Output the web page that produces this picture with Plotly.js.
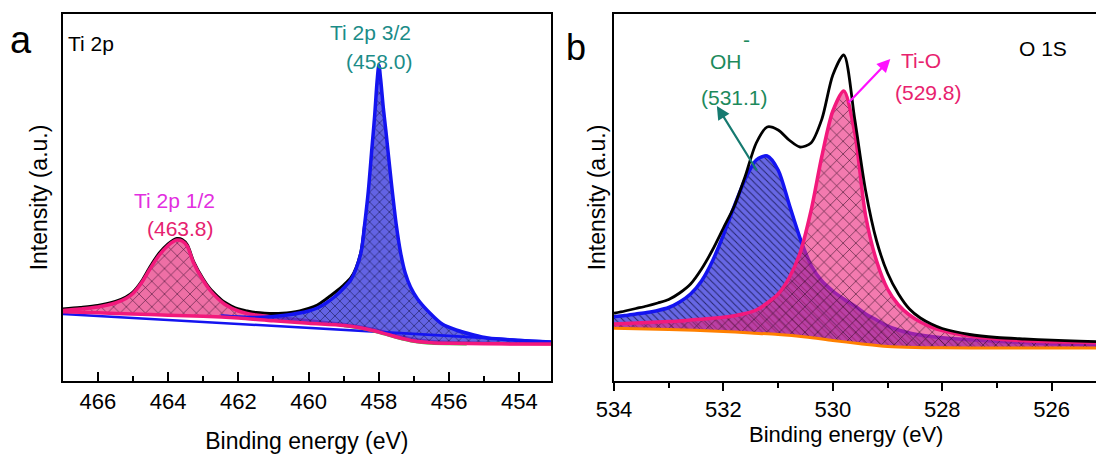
<!DOCTYPE html>
<html>
<head>
<meta charset="utf-8">
<script src="https://cdn.plot.ly/plotly-3.0.1.min.js"></script>
<style>html,body{margin:0;padding:0;background:#fff;}#chart{width:1096px;height:454px;}</style>
</head>
<body>
<div id="chart"></div>
<script>
// ---------- Panel a : Ti 2p ----------
const tiEnvE = [467, 466.5, 466, 465.5, 465.2, 465, 464.75, 464.5, 464.25, 464, 463.85, 463.75, 463.6, 463.45, 463.28, 463, 462.8, 462.6, 462.4, 462.2, 462, 461.75, 461.5, 461.25, 461, 460.75, 460.5, 460.25, 460, 459.75, 459.5, 459.2, 459, 458.8, 458.65, 458.5, 458.4];
const tiEnvI = [72, 73.5, 75.5, 79.5, 84, 89, 100, 115, 128, 137, 141, 142.5, 141.5, 136, 120, 102, 92, 85, 79, 75, 72, 70, 68.5, 67.8, 67.5, 67.7, 68.5, 70, 72.5, 76, 82, 90, 96, 103, 113, 131, 158];

const ti12E = [467, 466.5, 466, 465.5, 465.2, 465, 464.75, 464.5, 464.25, 464, 463.85, 463.75, 463.6, 463.45, 463.28, 463, 462.8, 462.6, 462.4, 462.2, 462, 461.75, 461.5, 461, 460.5, 460, 459.5, 459, 458.5, 458, 457.5, 457, 456.5, 456, 455, 454, 453.1];
const ti12I = [70.5, 72, 74, 78, 82.5, 87.5, 98.5, 113, 126, 135.5, 139.5, 141, 140, 134.5, 118.5, 100.5, 90.5, 83, 77, 73, 70, 67.5, 66, 64, 62, 60.2, 58.3, 56.5, 53.8, 50.3, 45.5, 41.5, 39.5, 38.6, 37.8, 37.4, 37.2];

const ti32E = [462.5, 462, 461.5, 461, 460.5, 460, 459.75, 459.5, 459.2, 459, 458.8, 458.65, 458.5, 458.4, 458.3, 458.2, 458.12, 458.05, 458, 457.95, 457.87, 457.8, 457.65, 457.5, 457.38, 457.25, 457.1, 456.9, 456.55, 456.2, 455.8, 455.3, 454.9, 454, 453.1];
const ti32I = [65, 64, 63.5, 64.5, 66.5, 70, 73, 78, 86, 93, 101, 112, 130, 158, 190, 232, 265, 300, 316, 302, 272, 250, 200, 155, 128, 108, 94, 82, 68, 57, 51, 46, 43, 40.5, 39];

const tiShirleyE = [467, 466, 465, 464, 463, 462, 461, 460, 459, 458.5, 458, 457.5, 457, 456.5, 456, 455, 454, 453.1];
const tiShirleyI = [69.3, 68.2, 67, 65.8, 64.8, 63, 60.2, 57.7, 55.5, 53, 49, 44, 40, 38.3, 37.7, 37.3, 37, 37];

const tiGreenE = [459, 458.5, 458, 457.5, 457, 456.5, 456, 455.5];
const tiGreenI = [54.5, 52, 47.8, 42.8, 38.8, 37, 36.5, 36.3];

const tiLinearE = [467, 453.1];
const tiLinearI = [67, 39.3];

// ---------- Panel b : O 1s ----------
const oE = [534, 533.8, 533.6, 533.4, 533.2, 533, 532.8, 532.6, 532.4, 532.2, 532, 531.8, 531.6, 531.4, 531.2, 531, 530.8, 530.6, 530.4, 530.2, 530, 529.8, 529.6, 529.4, 529.2, 529, 528.8, 528.6, 528.4, 528.2, 528, 527.5, 527, 526.5, 526, 525.5, 525.19];
const oEnvI = [67.7, 70, 72.5, 75, 78, 81.5, 88, 97, 112, 131, 153, 175, 205, 238, 254, 251, 241, 234, 238, 262, 306, 326, 262, 190, 140, 108, 87, 72, 63, 57, 52.5, 46.5, 43.5, 42, 40.8, 39.8, 39.3];
const ohI  = [64.3, 65.5, 67, 68.5, 70.5, 73.5, 79, 87, 100, 120, 146, 175, 202, 221, 225, 211, 177, 143, 116, 100, 90, 82, 75, 67, 61, 55, 51, 48, 46, 44.5, 43.3, 41.2, 39.7, 38.4, 37.2, 36.4, 36];
const tioI = [57, 57.5, 58, 58.5, 59, 59.5, 60, 61, 61.8, 62.7, 63.8, 65.3, 67.5, 71, 78, 87, 103, 128, 170, 225, 270, 290, 248, 165, 120, 92, 76, 66, 59, 54, 50.5, 45, 42, 40.3, 39.3, 38.7, 38.3];

const oBgE = [534, 533, 532, 531.5, 531, 530.5, 530, 529.5, 529, 528.5, 528, 527, 526, 525.19];
const oBgI = [52.7, 51.5, 49.5, 48, 46.5, 44, 40.5, 37.3, 34.5, 33.5, 33.2, 33, 33, 33];

// label texts
const labelsA = [
  {text: 'Ti 2p', E: 466.9, I: 338, color: '#000000', anchor: 'left'},
  {text: 'Ti 2p 3/2', E: 458.24, I: 349, color: '#1b8c88', anchor: 'center'},
  {text: '(458.0)', E: 457.97, I: 320, color: '#1b8c88', anchor: 'center'},
  {text: 'Ti 2p 1/2', E: 463.83, I: 181, color: '#e22ee0', anchor: 'center'},
  {text: '(463.8)', E: 463.65, I: 153, color: '#e6226f', anchor: 'center'}
];
const labelsB = [
  {text: 'OH', E: 531.95, I: 320, color: '#1d8a5c', anchor: 'center'},
  {text: '-', E: 531.57, I: 342, color: '#1d8a5c', anchor: 'center'},
  {text: '(531.1)', E: 531.79, I: 284, color: '#1d8a5c', anchor: 'center'},
  {text: 'Ti-O', E: 528.39, I: 321, color: '#e8226e', anchor: 'center'},
  {text: '(529.8)', E: 528.26, I: 289, color: '#e8226e', anchor: 'center'},
  {text: 'O 1S', E: 526.16, I: 333, color: '#000000', anchor: 'center'}
];
const xTitle = 'Binding energy (eV)';
const yTitle = 'Intensity (a.u.)';

const FONT = 'Liberation Sans, Arial, sans-serif';
const PINK = '#f2197c', BLUE = '#1414f0', ORANGE = '#ff8000';

function line(x, y, xa, ya, color, width, extra) {
  return Object.assign({x: x, y: y, xaxis: xa, yaxis: ya, type: 'scatter', mode: 'lines',
    line: {color: color, width: width, shape: 'spline', smoothing: 0.8}, hoverinfo: 'skip', showlegend: false}, extra || {});
}

const traces = [
  // panel a
  line(tiEnvE, tiEnvI, 'x', 'y', '#000', 3),
  line(tiShirleyE, tiShirleyI, 'x', 'y', 'rgba(0,0,0,0)', 0),
  line(ti12E, ti12I, 'x', 'y', PINK, 3.5, {fill: 'tonexty',
    fillpattern: {shape: 'x', bgcolor: 'rgba(232,55,130,0.72)', fgcolor: '#3a1030', size: 9, solidity: 0.12}}),
  line(tiShirleyE, tiShirleyI, 'x', 'y', 'rgba(0,0,0,0)', 0),
  line(ti32E, ti32I, 'x', 'y', BLUE, 3.5, {fill: 'tonexty',
    fillpattern: {shape: 'x', bgcolor: 'rgba(55,55,220,0.78)', fgcolor: '#101040', size: 7, solidity: 0.15}}),
  line(tiLinearE, tiLinearI, 'x', 'y', BLUE, 2.5),
  line(tiGreenE, tiGreenI, 'x', 'y', '#33cc33', 1.5),
  line(tiShirleyE, tiShirleyI, 'x', 'y', PINK, 3.5),
  // panel b
  line(oBgE, oBgI, 'x2', 'y2', 'rgba(0,0,0,0)', 0),
  line(oE, ohI, 'x2', 'y2', BLUE, 3.5, {fill: 'tonexty',
    fillpattern: {shape: '\\', bgcolor: 'rgba(60,60,220,0.78)', fgcolor: '#24246a', size: 5, solidity: 0.2}}),
  line(oBgE, oBgI, 'x2', 'y2', 'rgba(0,0,0,0)', 0),
  line(oE, tioI, 'x2', 'y2', PINK, 3.5, {fill: 'tonexty',
    fillpattern: {shape: 'x', bgcolor: 'rgba(236,40,125,0.62)', fgcolor: '#2a0a20', size: 9, solidity: 0.12}}),
  line(oBgE, oBgI, 'x2', 'y2', ORANGE, 3),
  line(oE, oEnvI, 'x2', 'y2', '#000', 2.8)
];

function ann(l, xa, ya) {
  return {text: l.text, x: l.E, y: l.I, xref: xa, yref: ya, showarrow: false,
    xanchor: l.anchor, yanchor: 'middle', font: {family: FONT, size: 21, color: l.color}};
}
const tickfont = {family: FONT, size: 22, color: '#000'};
const titlefont = {family: FONT, size: 23, color: '#000'};

const annotations = labelsA.map(l => ann(l, 'x', 'y')).concat(labelsB.map(l => ann(l, 'x2', 'y2')));
annotations.push({text: 'a', xref: 'paper', yref: 'paper', x: 21/1096, y: 1 - 40/454, showarrow: false,
  xanchor: 'center', yanchor: 'middle', font: {family: FONT, size: 38, color: '#000'}});
annotations.push({text: 'b', xref: 'paper', yref: 'paper', x: 576/1096, y: 1 - 47/454, showarrow: false,
  xanchor: 'center', yanchor: 'middle', font: {family: FONT, size: 36, color: '#000'}});
// x title of panel b sits tight under its tick labels
annotations.push({text: xTitle, xref: 'paper', yref: 'paper', x: 846/1096, y: 1 - 434/454, showarrow: false,
  xanchor: 'center', yanchor: 'middle', font: {family: FONT, size: 22, color: '#000'}});
// arrows
annotations.push({text: '', x: 532.12, y: 275, xref: 'x2', yref: 'y2', ax: 41, ay: 66, showarrow: true,
  arrowhead: 2, arrowsize: 1.2, arrowwidth: 2.2, arrowcolor: '#167a70'});
annotations.push({text: '', x: 528.95, y: 322, xref: 'x2', yref: 'y2', ax: -43, ay: 45, showarrow: true,
  arrowhead: 2, arrowsize: 1.2, arrowwidth: 2.2, arrowcolor: '#ff10ff'});

const ydom = [73/454, 440/454];

const layout = {
  width: 1096, height: 454,
  margin: {l: 0, r: 0, t: 0, b: 0},
  paper_bgcolor: '#fff', plot_bgcolor: '#fff',
  showlegend: false,
  font: {family: FONT},
  xaxis: {domain: [62.7/1096, 551/1096], range: [467, 453.1], showline: true, linewidth: 2, linecolor: '#000',
    mirror: true, ticks: 'inside', ticklen: 9, tickwidth: 2, tickcolor: '#000', tick0: 454, dtick: 2,
    minor: {ticks: 'inside', ticklen: 5, tickwidth: 2, tickcolor: '#000', dtick: 1, showgrid: false},
    showgrid: false, zeroline: false, tickfont: tickfont,
    title: {text: xTitle, font: titlefont, standoff: 19}},
  yaxis: {domain: ydom, range: [0, 367], showline: true, linewidth: 2, linecolor: '#000', mirror: true,
    ticks: '', showticklabels: false, showgrid: false, zeroline: false,
    title: {text: yTitle, font: titlefont, standoff: 7}},
  xaxis2: {domain: [614/1096, 1], range: [534, 525.19], anchor: 'y2', showline: true, linewidth: 2, linecolor: '#000',
    mirror: true, ticks: 'outside', ticklen: 8, tickwidth: 2, tickcolor: '#000', tick0: 526, dtick: 2,
    minor: {ticks: 'outside', ticklen: 5, tickwidth: 2, tickcolor: '#000', dtick: 1, showgrid: false},
    showgrid: false, zeroline: false, tickfont: tickfont},
  yaxis2: {domain: ydom, range: [0, 367], anchor: 'x2', showline: true, linewidth: 2, linecolor: '#000', mirror: false,
    ticks: '', showticklabels: false, showgrid: false, zeroline: false,
    title: {text: yTitle, font: titlefont, standoff: 0}},
  annotations: annotations
};

Plotly.newPlot('chart', traces, layout, {displayModeBar: false, staticPlot: true});
</script>
</body>
</html>
